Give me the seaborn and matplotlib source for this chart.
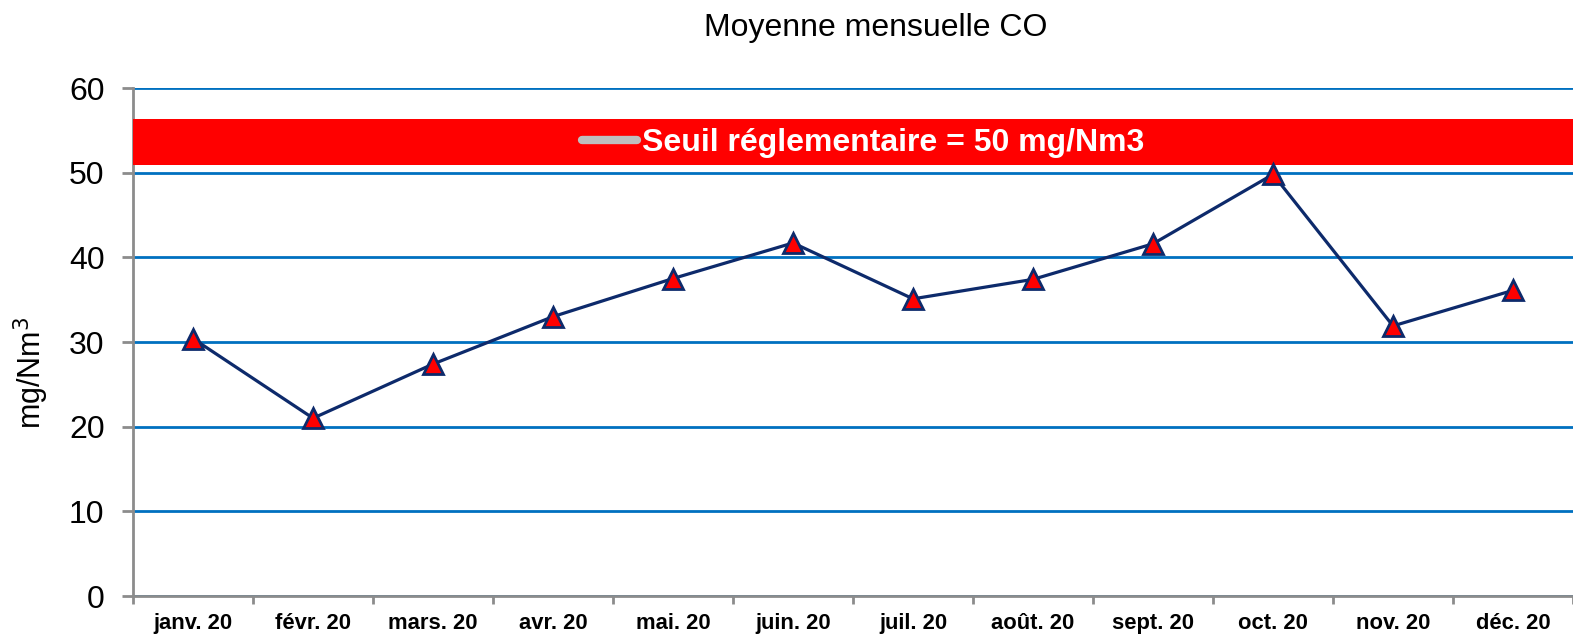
import pandas as pd
import matplotlib
matplotlib.use("Agg")
import matplotlib.pyplot as plt
from matplotlib.lines import Line2D
from matplotlib.patches import Rectangle
from matplotlib.ticker import FixedLocator
import seaborn as sns

mois = ["janv. 20", "févr. 20", "mars. 20", "avr. 20", "mai. 20", "juin. 20",
        "juil. 20", "août. 20", "sept. 20", "oct. 20", "nov. 20", "déc. 20"]
co_moyen = [30.4, 21.0, 27.4, 33.0, 37.5, 41.7, 35.1, 37.4, 41.6, 49.8, 31.9, 36.1]
seuil = 50
y_ticks = [0, 10, 20, 30, 40, 50, 60]

sns.set_theme(style="white")
plt.rcParams["font.family"] = ["Liberation Sans", "DejaVu Sans"]
plt.rcParams["text.color"] = "black"
plt.rcParams["xtick.labelcolor"] = "black"
plt.rcParams["ytick.labelcolor"] = "black"
plt.rcParams["axes.labelcolor"] = "black"

df = pd.DataFrame({"mois": mois, "co": co_moyen})

fig = plt.figure(figsize=(15.73, 6.35), dpi=100)
ax = fig.add_axes([0.0846, 0.0614, 0.9154, 0.80])

sns.lineplot(data=df, x="mois", y="co", sort=False, ax=ax, color="#0D2A6B",
             linewidth=2.3, marker="^", markersize=15, markerfacecolor="#FF0000",
             markeredgecolor="#0D2A6B", markeredgewidth=2, zorder=4)

ax.set_xlim(-0.5, len(mois) - 0.5)
ax.set_ylim(0, 60)
ax.set_yticks(y_ticks)
ax.grid(axis="y", color="#0070C0", linewidth=2)
ax.set_axisbelow(True)

# band behind the legend (legend background spanning the plot width)
ax.add_patch(Rectangle((0, 50.9 / 60), 1, 5.4 / 60, transform=ax.transAxes,
                       facecolor="#FF0000", edgecolor="none", zorder=3))
handle = Line2D([], [], color="#BFBFBF", linewidth=6, solid_capstyle="round")
leg = ax.legend([handle], [f"Seuil réglementaire = {seuil} mg/Nm3"],
                loc="center", bbox_to_anchor=(0.507, 53.5 / 60), frameon=False,
                handlelength=1.7, handletextpad=0.15,
                prop={"weight": "bold", "size": 23})
leg.get_texts()[0].set_color("white")
leg.set_zorder(5)

for side in ["top", "right"]:
    ax.spines[side].set_visible(False)
for side in ["left", "bottom"]:
    ax.spines[side].set_color("#8C8C8C")
    ax.spines[side].set_linewidth(2)

ax.tick_params(axis="y", which="major", labelsize=23, length=8, width=2,
               color="#8C8C8C", left=True, pad=12.5)
ax.tick_params(axis="x", which="major", length=0, labelsize=15.8, pad=12)
ax.xaxis.set_minor_locator(FixedLocator([i - 0.5 for i in range(len(mois) + 1)]))
ax.tick_params(axis="x", which="minor", bottom=True, length=6, width=2,
               color="#8C8C8C")
for lab in ax.get_xticklabels():
    lab.set_fontweight("bold")

ax.set_xlabel("")
ax.set_ylabel("mg/Nm$^3$", fontsize=22)
ax.yaxis.set_label_coords(-0.0567, 0.44)
fig.suptitle("Moyenne mensuelle CO", fontsize=23, x=0.557, y=0.98)

fig.savefig("out.png", dpi=100)
